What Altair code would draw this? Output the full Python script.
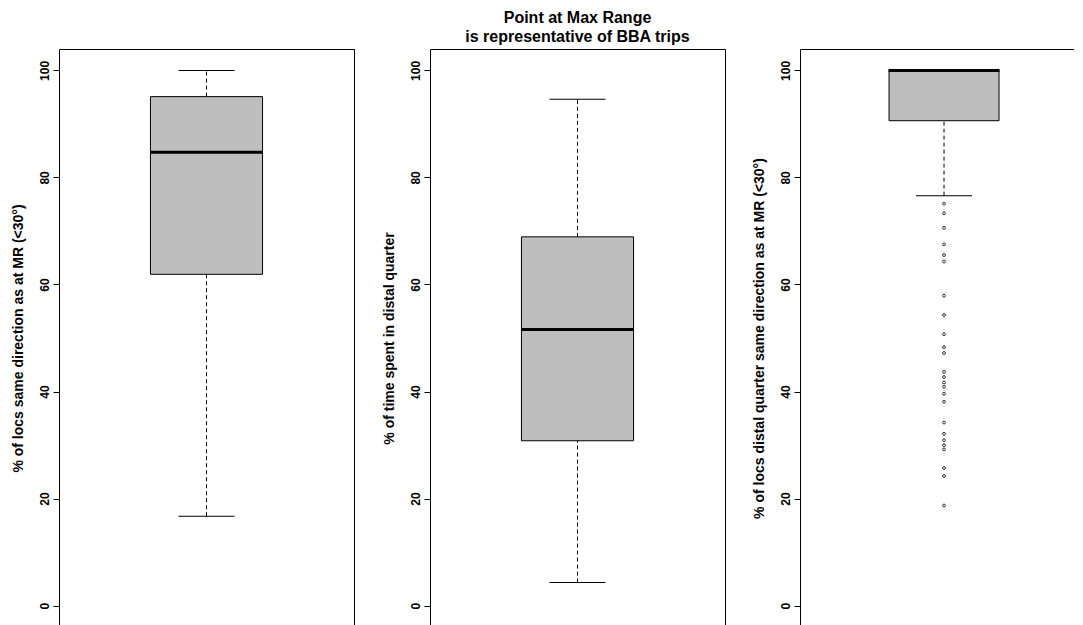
import altair as alt
import pandas as pd

# ---- data ----
panel_ids = ["A", "B", "C"]
axis_titles = [
    "% of locs same direction as at MR (<30°)",
    "% of time spent in distal quarter",
    "% of locs distal quarter same direction as at MR (<30°)",
]
whisker_low = [16.7, 4.3, 76.6]
q1 = [61.9, 30.8, 90.6]
median = [84.7, 51.6, 100.0]
q3 = [95.1, 68.9, 100.0]
whisker_high = [100.0, 94.6, 100.0]

outliers_c = [75.1, 73.3, 70.6, 67.5, 65.5, 64.3, 57.9, 54.3, 50.7, 48.3,
              47.2, 43.7, 42.7, 41.7, 40.9, 39.6, 38.1, 34.2, 32.1, 30.9,
              30.0, 29.2, 25.7, 24.2, 18.7]

y_ticks = [0, 20, 40, 60, 80, 100]
title_lines = ["Point at Max Range", "is representative of BBA trips"]

FONT = "Liberation Sans"
BOX_FILL = "#BEBEBE"

H = 578
widths = [295, 295, 274]


def panel(i, title=None):
    stats = pd.DataFrame({
        "panel": [panel_ids[i]],
        "lo": [whisker_low[i]], "q1": [q1[i]], "med": [median[i]],
        "q3": [q3[i]], "hi": [whisker_high[i]],
    })
    last = (i == 2)
    if last:
        xscale = alt.Scale(paddingInner=0, paddingOuter=0.027, align=1)
        xaxis = alt.Axis(orient="top", domain=True, domainColor="black",
                         domainWidth=1, labels=False, ticks=False, title="",
                         grid=False)
        box_frac = 0.423
    else:
        xscale = alt.Scale(paddingInner=0, paddingOuter=0)
        xaxis = None
        box_frac = 0.38
    x = alt.X("panel:N", axis=xaxis, scale=xscale)
    yscale = alt.Scale(domain=[-4, 104], nice=False, zero=False)
    yaxis = alt.Axis(
        title=axis_titles[i], values=y_ticks, grid=False,
        domain=last, domainColor="black", domainWidth=1,
        ticks=True, tickSize=6, tickColor="black", tickWidth=1,
        labelAngle=270, labelFont=FONT, labelFontSize=12,
        labelFontWeight="bold", labelColor="black", labelPadding=2,
        titleFont=FONT, titleFontSize=14, titleFontWeight="bold",
        titleColor="black", titlePadding=13,
    )
    base = alt.Chart(stats)
    whisk_low = base.mark_rule(color="black", strokeDash=[4, 3], strokeWidth=1).encode(
        x=x, y=alt.Y("lo:Q", scale=yscale, axis=yaxis), y2="q1:Q")
    whisk_high = base.mark_rule(color="black", strokeDash=[4, 3], strokeWidth=1).encode(
        x=x, y=alt.Y("q3:Q", scale=yscale, axis=yaxis), y2="hi:Q")
    cap_low = base.mark_tick(color="black", thickness=1, size=56, opacity=1).encode(
        x=x, y=alt.Y("lo:Q", scale=yscale, axis=yaxis))
    cap_high = base.mark_tick(color="black", thickness=1, size=56, opacity=1).encode(
        x=x, y=alt.Y("hi:Q", scale=yscale, axis=yaxis))
    box = base.mark_bar(fill=BOX_FILL, stroke="black", strokeWidth=1, opacity=1,
                        width=alt.RelativeBandSize(box_frac)).encode(
        x=x, y=alt.Y("q1:Q", scale=yscale, axis=yaxis), y2="q3:Q")
    med = base.mark_tick(color="black", thickness=3, size=111, opacity=1).encode(
        x=x, y=alt.Y("med:Q", scale=yscale, axis=yaxis))
    layers = [whisk_low, whisk_high, cap_low, cap_high, box, med]
    if last:
        odf = pd.DataFrame({"panel": [panel_ids[i]] * len(outliers_c),
                            "v": outliers_c})
        pts = alt.Chart(odf).mark_point(shape="circle", filled=False,
                                        color="black", size=8, opacity=1,
                                        strokeWidth=0.8).encode(
            x=x, y=alt.Y("v:Q", scale=yscale, axis=yaxis))
        layers.append(pts)
    ch = alt.layer(*layers).properties(width=widths[i], height=H)
    if last:
        ch = ch.properties(view=alt.ViewBackground(strokeOpacity=0))
    if title is not None:
        ch = ch.properties(title=alt.TitleParams(
            text=title, font=FONT, fontSize=16, fontWeight="bold",
            color="black", anchor="middle", lineHeight=19, offset=4))
    return ch


chart = alt.hconcat(
    panel(0), panel(1, title_lines), panel(2), spacing=26
).properties(
    padding={"left": 2, "top": 1, "right": 0, "bottom": 0}
).configure_view(
    stroke="black", strokeWidth=1
)

chart.save("out.html", embed_options={"renderer": "svg", "actions": False})
